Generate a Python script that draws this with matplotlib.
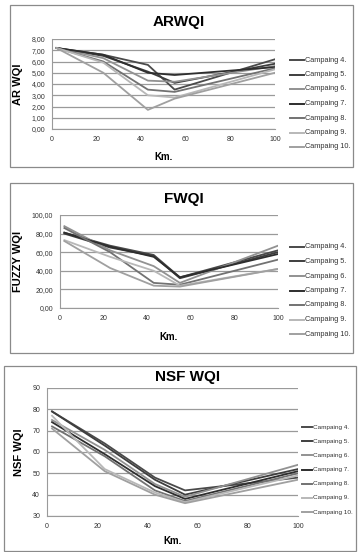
import matplotlib
matplotlib.use("Agg")
import matplotlib.pyplot as plt
from matplotlib.patches import Rectangle
from matplotlib.ticker import FuncFormatter

plt.rcParams['font.family'] = ['Liberation Sans', 'DejaVu Sans']

km = [2, 23, 43, 55, 100]
campaigns = ["Campaing 4.", "Campaing 5.", "Campaing 6.", "Campaing 7.",
             "Campaing 8.", "Campaing 9.", "Campaing 10."]
colors = ["#4a4a4a", "#3e3e3e", "#929292", "#2e2e2e", "#727272", "#b8b8b8", "#a0a0a0"]

arwqi = [
    [7.2, 6.6, 5.7, 3.5, 6.2],
    [7.2, 6.5, 5.1, 4.1, 5.8],
    [7.2, 6.3, 4.3, 4.2, 5.6],
    [7.2, 6.6, 5.0, 4.8, 5.5],
    [7.2, 6.0, 3.5, 3.3, 5.4],
    [7.2, 5.9, 3.0, 2.8, 5.3],
    [7.2, 5.0, 1.7, 2.7, 5.0],
]
fwqi = [
    [81, 67, 57, 33, 62],
    [80, 65, 56, 32, 60],
    [88, 62, 45, 27, 67],
    [81, 66, 55, 33, 58],
    [86, 60, 27, 25, 52],
    [73, 55, 40, 24, 42],
    [72, 43, 24, 23, 42],
]
nsfwqi = [
    [79, 64, 48, 42, 48],
    [79, 63, 47, 40, 52],
    [75, 61, 45, 39, 54],
    [74, 59, 44, 38, 51],
    [72, 58, 42, 37, 50],
    [77, 52, 41, 36.5, 49],
    [71, 51, 40, 36, 47],
]

W, H = 363, 552
fig = plt.figure(figsize=(W / 100, H / 100), dpi=100)
fig.patch.set_facecolor("white")

def fx(px):
    return px / W

def fy(py):
    return 1 - py / H

def box(x0, y0, x1, y1):
    fig.patches.append(Rectangle((fx(x0), fy(y1)), fx(x1 - x0), (y1 - y0) / H,
                                 transform=fig.transFigure, fill=False,
                                 edgecolor="#8a8a8a", linewidth=0.9))

panels = [
    dict(data=arwqi, title="ARWQI", ylabel="AR WQI", ylim=(0, 8), yticks=[0, 1, 2, 3, 4, 5, 6, 7, 8],
         fmt=lambda v, p: f"{v:.2f}".replace(".", ","),
         ax=(52, 39, 275, 129), box=(10, 5, 353, 167), title_y=22, xlabel_y=157,
         leg=(290, 60, 14.5, 14, 5.3)),
    dict(data=fwqi, title="FWQI", ylabel="FUZZY WQI", ylim=(0, 100), yticks=[0, 20, 40, 60, 80, 100],
         fmt=lambda v, p: f"{v:.2f}".replace(".", ","),
         ax=(60, 215, 278, 308), box=(10, 183, 353, 353), title_y=199, xlabel_y=337,
         leg=(290, 247, 14.5, 14, 5.3)),
    dict(data=nsfwqi, title="NSF WQI", ylabel="NSF WQI", ylim=(30, 90), yticks=[30, 40, 50, 60, 70, 80, 90],
         fmt=lambda v, p: f"{v:.0f}",
         ax=(47, 388, 298, 516), box=(4, 366, 356, 551), title_y=377, xlabel_y=541,
         leg=(302, 427, 14.2, 10, 4.6)),
]

for P in panels:
    box(*P["box"])
    x0, y0, x1, y1 = P["ax"]
    ax = fig.add_axes([fx(x0), fy(y1), fx(x1 - x0), (y1 - y0) / H])
    for vals, c in zip(P["data"], colors):
        ax.plot(km, vals, color=c, linewidth=1.3)
    ax.set_xlim(0, 100)
    ax.set_ylim(*P["ylim"])
    ax.set_yticks(P["yticks"])
    ax.set_xticks([0, 20, 40, 60, 80, 100])
    ax.yaxis.set_major_formatter(FuncFormatter(P["fmt"]))
    ax.grid(axis="y", color="#9a9a9a", linewidth=0.9)
    ax.set_axisbelow(True)
    for s in ["top", "right"]:
        ax.spines[s].set_visible(False)
    ax.spines["left"].set_color("#9a9a9a")
    ax.spines["bottom"].set_color("#9a9a9a")
    ax.tick_params(length=0, labelsize=5, colors="#333333", pad=5)
    ax.set_ylabel(P["ylabel"], fontsize=8, fontweight="bold", labelpad=6)
    fig.text(fx((x0 + x1) / 2 + 15), fy(P["title_y"]), P["title"], ha="center", va="center",
             fontsize=11, fontweight="bold")
    fig.text(fx((x0 + x1) / 2), fy(P["xlabel_y"]), "Km.", ha="center", va="center",
             fontsize=7, fontweight="bold")
    lx, ly, dy, ll, lfs = P["leg"]
    for i, (name, c) in enumerate(zip(campaigns, colors)):
        yy = fy(ly + i * dy)
        fig.add_artist(plt.Line2D([fx(lx), fx(lx + ll)], [yy, yy], color=c, linewidth=1.4,
                                  transform=fig.transFigure))
        fig.text(fx(lx + ll + 1), yy, name, fontsize=lfs, va="center", ha="left", color="#333333")

fig.savefig("out.png", dpi=100)
